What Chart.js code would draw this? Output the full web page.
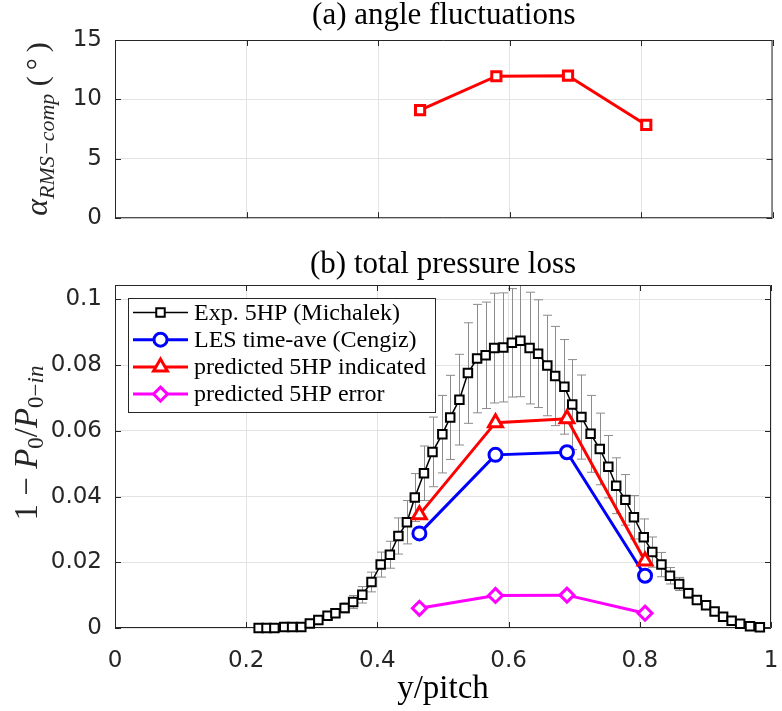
<!DOCTYPE html>
<html>
<head>
<meta charset="utf-8">
<script src="https://cdn.jsdelivr.net/npm/chart.js@4.4.1/dist/chart.umd.min.js"></script>
<style>
  html, body { margin: 0; padding: 0; background: #fff; overflow: hidden; }
  #wrap { position: relative; width: 782px; height: 711px; }
  #botBox { position: absolute; left: 0; top: 240px; }
  #topBox { position: absolute; left: 0; top: 0; }
</style>
</head>
<body>
<div id="wrap">
  <div id="botBox"><canvas id="lossChart" width="782" height="471"></canvas></div>
  <div id="topBox"><canvas id="angleChart" width="782" height="245"></canvas></div>
</div>
<script>
// Tick values
const xTicks = [0, 0.2, 0.4, 0.6, 0.8, 1];
const angleTicks = [0, 5, 10, 15];
const lossTicks = [0, 0.02, 0.04, 0.06, 0.08, 0.1];

// Probe positions (y/pitch) shared by the predicted / LES series
const xProbe = [0.464, 0.580, 0.689, 0.808];
const alphaRms = [9.1, 11.95, 12.0, 7.85];
const lesAve = [0.0288, 0.0527, 0.0535, 0.0159];
const predIndicated = [0.0345, 0.0625, 0.0637, 0.0204];
const predError = [0.0060, 0.0099, 0.0100, 0.0045];

// Experimental 5HP traverse (Michalek)
const xExp = [0.219, 0.231, 0.243, 0.258, 0.270, 0.284, 0.297, 0.310, 0.324, 0.336,
  0.350, 0.363, 0.377, 0.391, 0.405, 0.419, 0.432, 0.445, 0.457, 0.471,
  0.484, 0.499, 0.511, 0.525, 0.538, 0.552, 0.565, 0.578, 0.592, 0.605,
  0.618, 0.632, 0.645, 0.659, 0.671, 0.685, 0.697, 0.711, 0.725, 0.739,
  0.752, 0.764, 0.778, 0.791, 0.806, 0.819, 0.833, 0.846, 0.860, 0.874,
  0.887, 0.901, 0.914, 0.927, 0.940, 0.953, 0.968, 0.983];
const yExp = [0.0000, 0.0000, 0.0000, 0.0003, 0.0003, 0.0003, 0.0014, 0.0024, 0.0037, 0.0045,
  0.0061, 0.0079, 0.0101, 0.0140, 0.0193, 0.0223, 0.0280, 0.0322, 0.0397, 0.0471,
  0.0536, 0.0590, 0.0641, 0.0695, 0.0776, 0.0820, 0.0830, 0.0852, 0.0854, 0.0868,
  0.0874, 0.0852, 0.0835, 0.0799, 0.0767, 0.0734, 0.0680, 0.0642, 0.0591, 0.0545,
  0.0491, 0.0433, 0.0390, 0.0337, 0.0276, 0.0231, 0.0193, 0.0159, 0.0134, 0.0106,
  0.0085, 0.0069, 0.0050, 0.0034, 0.0022, 0.0013, 0.0005, 0.0002];
const errExp = [0, 0, 0, 0.0002, 0.0002, 0.0003, 0.0005, 0.0008, 0.0010, 0.0012,
  0.0015, 0.0020, 0.0025, 0.0030, 0.0038, 0.0041, 0.0055, 0.0066, 0.0073, 0.0083,
  0.0106, 0.0118, 0.0128, 0.0138, 0.0153, 0.0165, 0.0162, 0.0167, 0.0166, 0.0165,
  0.0170, 0.0170, 0.0164, 0.0153, 0.0151, 0.0144, 0.0137, 0.0128, 0.0117, 0.0109,
  0.0095, 0.0085, 0.0077, 0.0066, 0.0056, 0.0046, 0.0037, 0.0025, 0.0020, 0.0015,
  0.0012, 0.0010, 0.0008, 0.0005, 0.0003, 0.0002, 0, 0];

const serif = '"Liberation Serif", "Times New Roman", serif';
const sans = '"DejaVu Sans", sans-serif';
const axisColor = '#262626';
const gridColor = '#e3e3e3';

function points(xs, ys) {
  return xs.map((x, i) => ({ x: x, y: ys[i] }));
}

function fixTicks(values) {
  return function (scale) {
    scale.ticks = values.map((v) => ({ value: v }));
  };
}

// Box round the axes with inward tick marks on all four sides
const axesBox = {
  id: 'axesBox',
  beforeDatasetsDraw(chart) {
    const ctx = chart.ctx;
    const a = chart.chartArea;
    const xs = chart.scales.x;
    const ys = chart.scales.y;
    const tl = 6;
    ctx.save();
    ctx.strokeStyle = axisColor;
    ctx.lineWidth = 1;
    ctx.beginPath();
    ctx.rect(a.left + 0.5, a.top + 0.5, a.right - a.left - 1, a.bottom - a.top - 1);
    xs.ticks.forEach((t) => {
      const px = Math.round(xs.getPixelForValue(t.value)) + 0.5;
      ctx.moveTo(px, a.bottom);
      ctx.lineTo(px, a.bottom - tl);
      ctx.moveTo(px, a.top);
      ctx.lineTo(px, a.top + tl);
    });
    ys.ticks.forEach((t) => {
      const py = Math.round(ys.getPixelForValue(t.value)) + 0.5;
      ctx.moveTo(a.left, py);
      ctx.lineTo(a.left + tl, py);
      ctx.moveTo(a.right, py);
      ctx.lineTo(a.right - tl, py);
    });
    ctx.stroke();
    ctx.restore();
  },
};

// Rotated y-axis label with subscripts
function makeSideLabel(runs, cx, cy) {
  return {
    id: 'sideLabel',
    afterDraw(chart) {
      const ctx = chart.ctx;
      const fontOf = (r) => (r.it ? 'italic ' : '') + r.s + 'px ' + serif;
      ctx.save();
      ctx.translate(cx, cy);
      ctx.rotate(-Math.PI / 2);
      let total = 0;
      runs.forEach((r) => {
        ctx.font = fontOf(r);
        total += ctx.measureText(r.t).width;
      });
      let x = -total / 2;
      ctx.fillStyle = axisColor;
      ctx.textBaseline = 'alphabetic';
      ctx.textAlign = 'left';
      runs.forEach((r) => {
        ctx.font = fontOf(r);
        ctx.fillText(r.t, x, r.dy || 0);
        x += ctx.measureText(r.t).width;
      });
      ctx.restore();
    },
  };
}

// Vertical error bars for one dataset
function makeErrorBars(dsIndex, errs) {
  return {
    id: 'errorBars',
    beforeDatasetsDraw(chart) {
      const ctx = chart.ctx;
      const a = chart.chartArea;
      const xs = chart.scales.x;
      const ys = chart.scales.y;
      const data = chart.data.datasets[dsIndex].data;
      ctx.save();
      ctx.beginPath();
      ctx.rect(a.left, a.top, a.right - a.left, a.bottom - a.top);
      ctx.clip();
      ctx.strokeStyle = '#8c8c8c';
      ctx.lineWidth = 1;
      ctx.beginPath();
      data.forEach((p, i) => {
        const e = errs[i];
        if (!e) return;
        const px = Math.round(xs.getPixelForValue(p.x)) + 0.5;
        const top = ys.getPixelForValue(p.y + e);
        const bot = ys.getPixelForValue(p.y - e);
        ctx.moveTo(px, top);
        ctx.lineTo(px, bot);
        ctx.moveTo(px - 4.5, top);
        ctx.lineTo(px + 4.5, top);
        ctx.moveTo(px - 4.5, bot);
        ctx.lineTo(px + 4.5, bot);
      });
      ctx.stroke();
      ctx.restore();
    },
  };
}

// Boxed legend inside the axes
function makeInsetLegend(box) {
  return {
    id: 'insetLegend',
    afterDatasetsDraw(chart) {
      const ctx = chart.ctx;
      ctx.save();
      ctx.fillStyle = '#fff';
      ctx.fillRect(box.x, box.y, box.w, box.h);
      ctx.strokeStyle = axisColor;
      ctx.lineWidth = 1;
      ctx.strokeRect(box.x + 0.5, box.y + 0.5, box.w, box.h);
      chart.data.datasets.forEach((ds, i) => {
        const cy = box.y + box.first + i * box.row;
        ctx.strokeStyle = ds.borderColor;
        ctx.lineWidth = ds.borderWidth;
        ctx.beginPath();
        ctx.moveTo(box.x + 5, cy);
        ctx.lineTo(box.x + 60, cy);
        ctx.stroke();
        ctx.fillStyle = ds.pointBackgroundColor;
        ctx.strokeStyle = ds.pointBorderColor;
        ctx.lineWidth = ds.pointBorderWidth;
        Chart.helpers.drawPoint(ctx, {
          pointStyle: ds.pointStyle,
          radius: ds.pointRadius,
          borderWidth: ds.pointBorderWidth,
          rotation: 0,
        }, box.x + 32.5, cy);
        ctx.fillStyle = '#000';
        ctx.font = '24px ' + serif;
        ctx.textBaseline = 'middle';
        ctx.textAlign = 'left';
        ctx.fillText(ds.label, box.x + 66, cy + 1);
      });
      ctx.restore();
    },
  };
}

function tickFont() {
  return { family: sans, size: 23 };
}

// (a) angle fluctuations
new Chart(document.getElementById('angleChart'), {
  type: 'line',
  data: {
    datasets: [
      {
        label: 'alpha RMS',
        data: points(xProbe, alphaRms),
        borderColor: '#ff0000',
        borderWidth: 3,
        pointStyle: 'rect',
        pointRadius: 6.5,
        pointBorderWidth: 3,
        pointBackgroundColor: '#ffffff',
        pointBorderColor: '#ff0000',
        clip: false,
      },
    ],
  },
  options: {
    responsive: false,
    animation: false,
    layout: { padding: { left: 0, right: 5, top: 0, bottom: 0 } },
    plugins: {
      legend: { display: false },
      tooltip: { enabled: false },
      title: {
        display: true,
        fullSize: false,
        text: '(a) angle fluctuations',
        color: '#000',
        font: { family: serif, size: 31, weight: 'normal', lineHeight: 1 },
        padding: { top: 0, bottom: 9 },
      },
    },
    scales: {
      x: {
        type: 'linear',
        min: 0,
        max: 1,
        afterBuildTicks: fixTicks(xTicks),
        ticks: { display: false },
        grid: { color: gridColor, drawTicks: false },
        border: { display: false },
        afterFit(s) {
          s.height = 13;
          s.paddingLeft = 0;
          s.paddingRight = 0;
        },
      },
      y: {
        min: 0,
        max: 15,
        afterBuildTicks: fixTicks(angleTicks),
        ticks: { color: axisColor, font: tickFont(), padding: 13 },
        grid: { color: gridColor, drawTicks: false },
        border: { display: false },
        afterFit(s) {
          s.width = 115;
        },
      },
    },
  },
  plugins: [
    axesBox,
    makeSideLabel([
      { t: 'α', it: true, s: 32 },
      { t: 'RMS−comp', it: true, s: 22, dy: 7 },
      { t: ' (\u2009°\u2009)', s: 30 },
    ], 47, 129),
  ],
});

// (b) total pressure loss
new Chart(document.getElementById('lossChart'), {
  type: 'line',
  data: {
    datasets: [
      {
        label: 'Exp. 5HP (Michalek)',
        data: points(xExp, yExp),
        borderColor: '#000000',
        borderWidth: 1.5,
        pointStyle: 'rect',
        pointRadius: 6,
        pointBorderWidth: 2,
        pointBackgroundColor: '#ffffff',
        pointBorderColor: '#000000',
        order: 4,
        clip: false,
      },
      {
        label: 'LES time-ave (Cengiz)',
        data: points(xProbe, lesAve),
        borderColor: '#0000ff',
        borderWidth: 3,
        pointStyle: 'circle',
        pointRadius: 6.5,
        pointBorderWidth: 3,
        pointBackgroundColor: '#ffffff',
        pointBorderColor: '#0000ff',
        order: 3,
        clip: false,
      },
      {
        label: 'predicted 5HP indicated',
        data: points(xProbe, predIndicated),
        borderColor: '#ff0000',
        borderWidth: 3,
        pointStyle: 'triangle',
        pointRadius: 8,
        pointBorderWidth: 3,
        pointBackgroundColor: '#ffffff',
        pointBorderColor: '#ff0000',
        order: 2,
        clip: false,
      },
      {
        label: 'predicted 5HP error',
        data: points(xProbe, predError),
        borderColor: '#ff00ff',
        borderWidth: 3,
        pointStyle: 'rectRot',
        pointRadius: 7,
        pointBorderWidth: 3,
        pointBackgroundColor: '#ffffff',
        pointBorderColor: '#ff00ff',
        order: 1,
        clip: false,
      },
    ],
  },
  options: {
    responsive: false,
    animation: false,
    layout: { padding: { left: 0, right: 5, top: 0, bottom: 0 } },
    plugins: {
      legend: { display: false },
      tooltip: { enabled: false },
      title: {
        display: true,
        fullSize: false,
        text: '(b) total pressure loss',
        color: '#000',
        font: { family: serif, size: 31, weight: 'normal', lineHeight: 1.2 },
        padding: { top: 6, bottom: 1.8 },
      },
    },
    scales: {
      x: {
        type: 'linear',
        min: 0,
        max: 1,
        afterBuildTicks: fixTicks(xTicks),
        ticks: {
          color: axisColor,
          font: tickFont(),
          padding: 19,
          maxRotation: 0,
          callback: (v) => String(+v.toFixed(2)),
        },
        grid: { color: gridColor, drawTicks: false },
        border: { display: false },
        title: {
          display: true,
          text: 'y/pitch',
          color: '#000',
          font: { family: serif, size: 33 },
          padding: { top: 0, bottom: 2 },
        },
        afterFit(s) {
          s.height = 83;
          s.paddingLeft = 0;
          s.paddingRight = 0;
        },
      },
      y: {
        min: 0,
        max: 0.1044,
        afterBuildTicks: fixTicks(lossTicks),
        ticks: {
          color: axisColor,
          font: tickFont(),
          padding: 13,
          callback: (v) => String(+v.toFixed(3)),
        },
        grid: { color: gridColor, drawTicks: false },
        border: { display: false },
        afterFit(s) {
          s.width = 115;
        },
      },
    },
  },
  plugins: [
    makeErrorBars(0, errExp),
    axesBox,
    makeInsetLegend({ x: 128, y: 58, w: 307, h: 114, first: 14.5, row: 27.2 }),
    makeSideLabel([
      { t: '1 − ', s: 33 },
      { t: 'P', it: true, s: 33 },
      { t: '0', s: 23, dy: 6 },
      { t: '/', s: 33 },
      { t: 'P', it: true, s: 33 },
      { t: '0−', s: 23, dy: 6 },
      { t: 'in', it: true, s: 23, dy: 6 },
    ], 37, 203),
  ],
});
</script>
</body>
</html>
